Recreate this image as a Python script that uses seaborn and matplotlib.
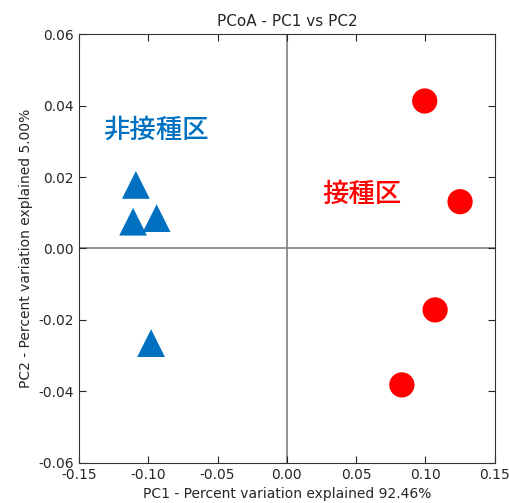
import matplotlib
matplotlib.use("Agg")
import matplotlib.pyplot as plt
import pandas as pd
import seaborn as sns

# sample groups
groups = ["非接種区"] * 4 + ["接種区"] * 4
pc1 = [-0.109, -0.111, -0.094, -0.098, 0.0995, 0.125, 0.107, 0.083]
pc2 = [0.0178, 0.0075, 0.0085, -0.0265, 0.0413, 0.0131, -0.0172, -0.0382]

label_names = ["非接種区", "接種区"]
label_x = [-0.0948, 0.0544]
label_y = [0.0331, 0.0150]

colors = {"非接種区": "#0070C0", "接種区": "#FF0000"}
markers = {"非接種区": "^", "接種区": "o"}

df = pd.DataFrame({"PC1": pc1, "PC2": pc2, "group": groups})

sns.set_style("ticks")
plt.rcParams["font.family"] = ["DejaVu Sans", "Noto Sans CJK JP"]
plt.rcParams["xtick.direction"] = "in"
plt.rcParams["ytick.direction"] = "in"

fig, ax = plt.subplots(figsize=(5.1, 5.03), dpi=100)
fig.subplots_adjust(left=0.155, right=0.97, top=0.932, bottom=0.08)

ax.axhline(0, color="#808080", lw=1.2, zorder=0)
ax.axvline(0, color="#808080", lw=1.2, zorder=0)

sns.scatterplot(data=df[df.group == "接種区"], x="PC1", y="PC2",
                color=colors["接種区"], marker="o", s=330, edgecolor="none",
                legend=False, ax=ax)
sns.scatterplot(data=df[df.group == "非接種区"], x="PC1", y="PC2",
                color=colors["非接種区"], marker="^", s=400, edgecolor="none",
                legend=False, ax=ax)

for name, lx, ly in zip(label_names, label_x, label_y):
    ax.text(lx, ly, name, color=colors[name], fontsize=19, fontweight="medium",
            ha="center", va="center", family=["Noto Sans CJK JP"])

ax.set_xlim(-0.15, 0.15)
ax.set_ylim(-0.06, 0.06)
ax.set_xticks([-0.15, -0.10, -0.05, 0.00, 0.05, 0.10, 0.15])
ax.set_yticks([-0.06, -0.04, -0.02, 0.00, 0.02, 0.04, 0.06])
ax.xaxis.set_major_formatter(matplotlib.ticker.FormatStrFormatter("%.2f"))
ax.yaxis.set_major_formatter(matplotlib.ticker.FormatStrFormatter("%.2f"))
ax.tick_params(top=True, right=True, length=5, labelsize=10)
for sp in ax.spines.values():
    sp.set_color("#333333")

ax.set_title("PCoA - PC1 vs PC2", fontsize=11)
ax.set_xlabel("PC1 - Percent variation explained 92.46%", fontsize=10)
ax.set_ylabel("PC2 - Percent variation explained 5.00%", fontsize=10)

plt.savefig("out.png", dpi=100)
